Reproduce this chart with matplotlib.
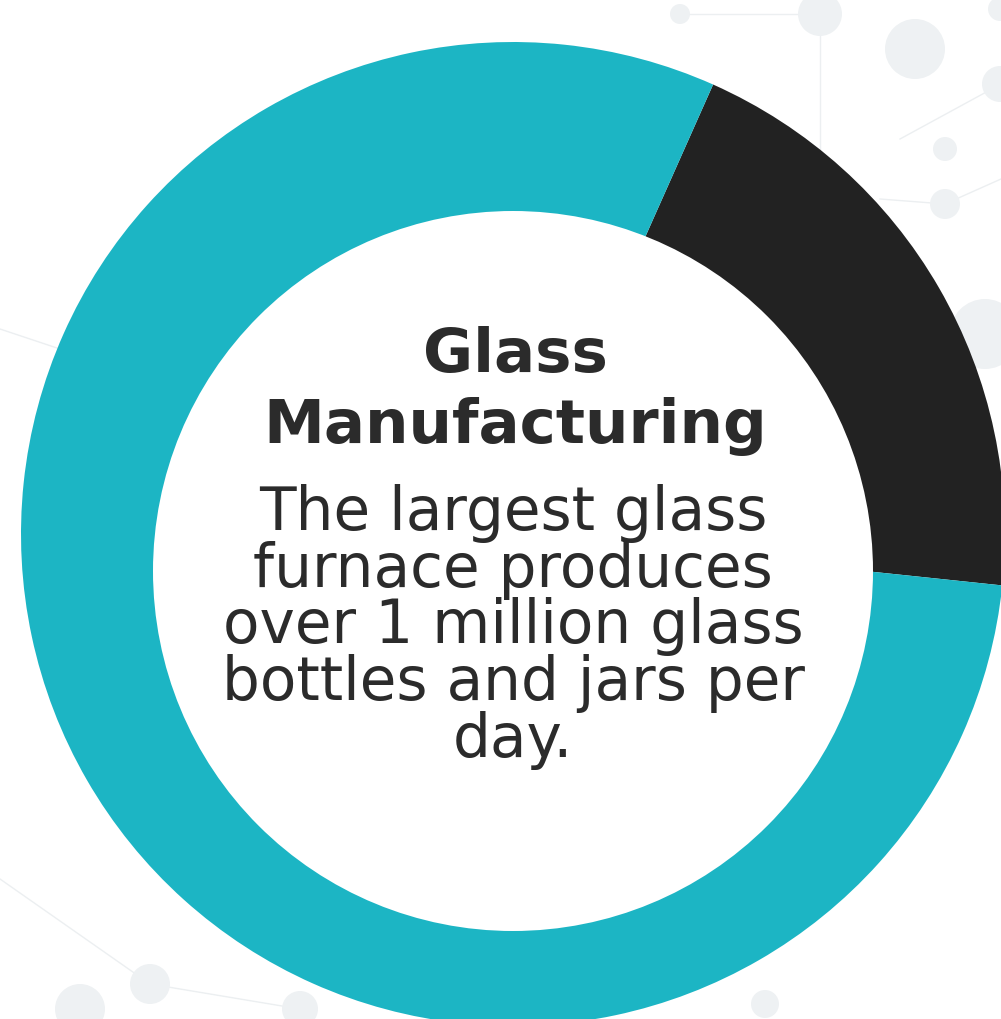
import matplotlib
matplotlib.use("Agg")
import matplotlib.pyplot as plt
from matplotlib.patches import Circle

# ---- data ----
segments = ["Other", "Glass Manufacturing"]
shares = [20, 80]
colors = ["#222222", "#1cb5c4"]
title_lines = ["Glass", "Manufacturing"]
body_lines = ["The largest glass", "furnace produces", "over 1 million glass",
              "bottles and jars per", "day."]

W, H = 1001, 1020
fig = plt.figure(figsize=(W / 100, H / 100), dpi=100)
fig.patch.set_facecolor("white")
ax = fig.add_axes([0, 0, 1, 1])

# faint background network decoration
deco_nodes = [(915, 50, 30), (1000, 85, 18), (945, 150, 12), (945, 205, 15),
              (985, 335, 35), (820, 15, 22), (765, 1005, 14), (150, 985, 20),
              (80, 1010, 25), (300, 1010, 18), (680, 15, 10), (1000, 10, 12)]
deco_edges = [((820, 15), (820, 150)), ((945, 205), (1001, 180)),
              ((900, 140), (1001, 85)), ((0, 330), (60, 350)),
              ((0, 880), (150, 985)), ((150, 985), (300, 1010)),
              ((680, 15), (820, 15)), ((880, 200), (945, 205))]
for (x0, y0), (x1, y1) in deco_edges:
    ax.plot([x0, x1], [H - y0, H - y1], color="#eceff1", lw=1.0, zorder=0)
for x, y, r in deco_nodes:
    ax.add_patch(Circle((x, H - y), r, color="#eef1f3", lw=0, zorder=0.5))

cx, cy, R = 513, H - 535, 492
ax.pie(shares, colors=colors, startangle=66, counterclock=False,
       center=(cx, cy), radius=R, wedgeprops=dict(linewidth=0))
# hole
ax.add_patch(Circle((513, H - 572), 360, color="white", lw=0, zorder=5))

ax.set_xlim(0, W)
ax.set_ylim(0, H)
ax.set_aspect("equal")
ax.set_axis_off()

txt_color = "#2b2b2b"
title_base = [372, 443]
for s, b in zip(title_lines, title_base):
    ax.text(515, H - b, s, ha="center", va="baseline", fontsize=44,
            fontweight="bold", family="DejaVu Sans", color=txt_color, zorder=10)
body_base = [530, 587, 643, 700, 757]
for s, b in zip(body_lines, body_base):
    ax.text(513, H - b, s, ha="center", va="baseline", fontsize=43,
            family="DejaVu Sans", color=txt_color, zorder=10)

fig.savefig("out.png", dpi=100, facecolor="white")
